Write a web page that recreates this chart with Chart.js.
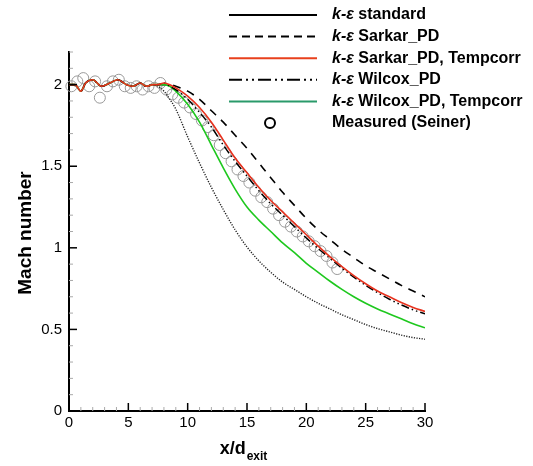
<!DOCTYPE html>
<html>
<head>
<meta charset="utf-8">
<script src="https://cdn.jsdelivr.net/npm/chart.js@4.4.1/dist/chart.umd.min.js"></script>
<style>
  html, body { margin: 0; padding: 0; background: #fff; }
  canvas { display: block; }
</style>
</head>
<body>
<canvas id="machChart" width="533" height="466"></canvas>
<script>
// x/d_exit positions used by the simulation curves
const xSim = [0, 0.5, 1.0, 1.4, 2.0, 2.75, 3.45, 4.1, 4.85, 5.4, 6.0, 6.5, 7.1,
    7.5, 8, 8.5, 9, 10, 11, 12, 13, 14, 15, 16, 17, 18, 19, 20, 21, 22, 23, 24, 25, 26, 27, 28, 29, 30];

const keStandard = [2.0, 2.0, 1.96, 2.01, 2.03, 1.99, 2.01, 2.03, 2.0, 1.99, 2.01, 1.99, 2.0,
    1.99, 1.96, 1.91, 1.85, 1.68, 1.52, 1.37, 1.235, 1.11, 1.005, 0.92, 0.85, 0.79, 0.745, 0.70,
    0.66, 0.625, 0.59, 0.56, 0.53, 0.505, 0.485, 0.465, 0.45, 0.44];
const keSarkar = [2.0, 2.0, 1.96, 2.01, 2.03, 1.99, 2.01, 2.03, 2.0, 1.99, 2.01, 1.99, 2.0,
    2.0, 2.0, 2.0, 1.99, 1.96, 1.91, 1.84, 1.77, 1.69, 1.61, 1.52, 1.43, 1.34, 1.26, 1.18,
    1.11, 1.05, 0.99, 0.94, 0.89, 0.85, 0.81, 0.77, 0.735, 0.70];
const keSarkarTemp = [2.0, 2.0, 1.96, 2.01, 2.03, 1.99, 2.01, 2.03, 2.0, 1.99, 2.01, 1.99, 2.0,
    2.0, 2.01, 2.0, 1.98, 1.93, 1.86, 1.77, 1.66, 1.55, 1.46, 1.37, 1.29, 1.22, 1.15, 1.08,
    1.01, 0.945, 0.885, 0.83, 0.78, 0.735, 0.70, 0.665, 0.635, 0.61];
const keWilcox = [2.0, 2.0, 1.96, 2.01, 2.03, 1.99, 2.01, 2.03, 2.0, 1.99, 2.01, 1.99, 2.0,
    2.0, 2.01, 1.99, 1.97, 1.91, 1.83, 1.74, 1.63, 1.53, 1.44, 1.35, 1.27, 1.20, 1.13, 1.06,
    0.995, 0.935, 0.875, 0.82, 0.77, 0.725, 0.685, 0.65, 0.62, 0.595];
const keWilcoxTemp = [2.0, 2.0, 1.96, 2.01, 2.03, 1.99, 2.01, 2.03, 2.0, 1.99, 2.01, 1.99, 2.0,
    2.0, 2.0, 1.99, 1.96, 1.88, 1.77, 1.63, 1.49, 1.36, 1.25, 1.17, 1.10, 1.03, 0.97, 0.905,
    0.85, 0.795, 0.745, 0.70, 0.66, 0.625, 0.595, 0.565, 0.535, 0.51];

// Seiner measurements
const xMeas = [0.2, 0.7, 1.2, 1.7, 2.2, 2.6, 3.2, 3.7, 4.2, 4.7, 5.2, 5.7, 6.2, 6.7, 7.2, 7.7,
    8.2, 8.7, 9.2, 9.7, 10.2, 10.7, 11.2, 11.7, 12.2, 12.7, 13.2, 13.7, 14.2, 14.7, 15.2, 15.7,
    16.2, 16.7, 17.2, 17.7, 18.2, 18.7, 19.2, 19.7, 20.2, 20.7, 21.2, 21.7, 22.2, 22.6];
const machMeas = [1.99, 2.02, 2.04, 1.99, 2.02, 1.92, 1.99, 2.02, 2.03, 1.99, 1.98, 1.99, 1.97, 1.99, 1.98, 2.01,
    1.97, 1.94, 1.92, 1.89, 1.86, 1.82, 1.78, 1.74, 1.69, 1.63, 1.58, 1.53, 1.48, 1.44, 1.40, 1.35,
    1.31, 1.28, 1.24, 1.20, 1.16, 1.13, 1.10, 1.07, 1.04, 1.01, 0.98, 0.95, 0.91, 0.87];

const xTicks = [0, 5, 10, 15, 20, 25, 30];
const yTicks = [0, 0.5, 1, 1.5, 2];

const pts = (xs, ys) => xs.map((x, i) => ({ x: x, y: ys[i] }));
const FONT = '"Liberation Sans", Arial, Helvetica, sans-serif';

const legendItems = [
    { label: ' standard', color: '#000', dash: [] },
    { label: ' Sarkar_PD', color: '#000', dash: [8, 5] },
    { label: ' Sarkar_PD, Tempcorr', color: '#e8401c', dash: [] },
    { label: ' Wilcox_PD', color: '#000', dash: [13, 4, 2, 4, 2, 4] },
    { label: ' Wilcox_PD, Tempcorr', color: '#2a9a6a', dash: [] },
    { label: 'Measured (Seiner)', marker: true }
];

const decorPlugin = {
    id: 'decor',
    afterDraw(chart) {
        const ctx = chart.ctx;
        const { left, bottom } = chart.chartArea;
        const xs = chart.scales.x, ys = chart.scales.y;
        ctx.save();
        // inward ticks
        for (let v = 0; v <= 30; v++) {
            const major = v % 5 === 0;
            const px = xs.getPixelForValue(v);
            ctx.strokeStyle = major ? '#000' : '#aaa';
            ctx.lineWidth = major ? 1.5 : 1;
            ctx.beginPath();
            ctx.moveTo(px, bottom);
            ctx.lineTo(px, bottom - (major ? 8 : 4));
            ctx.stroke();
        }
        for (let i = 0; i <= 22; i++) {
            const major = i % 5 === 0;
            const py = ys.getPixelForValue(i / 10);
            ctx.strokeStyle = major ? '#000' : '#aaa';
            ctx.lineWidth = major ? 1.5 : 1;
            ctx.beginPath();
            ctx.moveTo(left, py);
            ctx.lineTo(left + (major ? 8 : 4), py);
            ctx.stroke();
        }

        // axis titles
        ctx.fillStyle = '#000';
        ctx.textBaseline = 'alphabetic';
        ctx.font = 'bold 18px ' + FONT;
        const main = 'x/d';
        const wMain = ctx.measureText(main).width;
        ctx.font = 'bold 12px ' + FONT;
        const wSub = ctx.measureText('exit').width;
        const startX = 243 - (wMain + wSub) / 2;
        ctx.font = 'bold 18px ' + FONT;
        ctx.textAlign = 'left';
        ctx.fillText(main, startX, 454);
        ctx.font = 'bold 12px ' + FONT;
        ctx.fillText('exit', startX + wMain + 1, 460);

        ctx.save();
        ctx.translate(31, 233);
        ctx.rotate(-Math.PI / 2);
        ctx.textAlign = 'center';
        ctx.font = 'bold 19px ' + FONT;
        ctx.fillText('Mach number', 0, 0);
        ctx.restore();

        // legend
        legendItems.forEach((item, i) => {
            const cy = 15 + i * 21.6;
            if (item.marker) {
                ctx.strokeStyle = '#000';
                ctx.lineWidth = 2;
                ctx.setLineDash([]);
                ctx.beginPath();
                ctx.arc(270, cy, 5, 0, Math.PI * 2);
                ctx.stroke();
                ctx.font = 'bold 16px ' + FONT;
                ctx.textBaseline = 'middle';
                ctx.fillText(item.label, 332, cy);
            } else {
                ctx.strokeStyle = item.color;
                ctx.lineWidth = 2;
                ctx.setLineDash(item.dash);
                ctx.beginPath();
                ctx.moveTo(229, cy);
                ctx.lineTo(317, cy);
                ctx.stroke();
                ctx.setLineDash([]);
                ctx.textBaseline = 'middle';
                ctx.font = 'italic bold 16px ' + FONT;
                ctx.fillText('k-ε', 332, cy);
                const w = ctx.measureText('k-ε').width;
                ctx.font = 'bold 16px ' + FONT;
                ctx.fillText(item.label, 332 + w, cy);
            }
        });
        ctx.restore();
    }
};

const ctx = document.getElementById('machChart').getContext('2d');
new Chart(ctx, {
    type: 'line',
    data: {
        datasets: [
            {
                label: 'k-ε Sarkar_PD, Tempcorr',
                data: pts(xSim, keSarkarTemp),
                borderColor: '#e8321e',
                borderWidth: 1.6
            },
            {
                label: 'k-ε Wilcox_PD',
                data: pts(xSim, keWilcox),
                borderColor: '#000',
                borderWidth: 1.5,
                borderDash: [8, 3, 1.5, 3, 1.5, 3]
            },
            {
                label: 'k-ε Wilcox_PD, Tempcorr',
                data: pts(xSim, keWilcoxTemp),
                borderColor: '#1ec81e',
                borderWidth: 1.6
            },
            {
                label: 'k-ε Sarkar_PD',
                data: pts(xSim, keSarkar),
                borderColor: '#000',
                borderWidth: 1.6,
                borderDash: [8, 7]
            },
            {
                label: 'k-ε standard',
                data: pts(xSim, keStandard),
                borderColor: '#222',
                borderWidth: 1.4,
                borderDash: [1.2, 1.4]
            },
            {
                label: 'Measured (Seiner)',
                data: pts(xMeas, machMeas),
                showLine: false,
                pointRadius: 5.5,
                pointBorderColor: '#999',
                pointBorderWidth: 1,
                pointBackgroundColor: 'rgba(0,0,0,0)',
                clip: false
            }
        ]
    },
    options: {
        responsive: false,
        animation: false,
        devicePixelRatio: 1,
        layout: { padding: { left: 0, right: 108, top: 52, bottom: 0 } },
        elements: {
            line: { cubicInterpolationMode: 'monotone', fill: false },
            point: { radius: 0 }
        },
        font: { family: FONT },
        scales: {
            x: {
                type: 'linear',
                min: 0,
                max: 30,
                afterBuildTicks: s => { s.ticks = xTicks.map(v => ({ value: v })); },
                afterFit: s => { s.height = 55; },
                ticks: { color: '#000', font: { size: 15, family: FONT }, padding: 3, maxRotation: 0, autoSkip: false },
                grid: { display: false, drawTicks: false, tickLength: 0 },
                border: { color: '#000', width: 2 }
            },
            y: {
                type: 'linear',
                min: 0,
                max: 2.2,
                afterBuildTicks: s => { s.ticks = yTicks.map(v => ({ value: v })); },
                afterFit: s => { s.width = 69; },
                ticks: { color: '#000', font: { size: 15, family: FONT }, padding: 7, autoSkip: false,
                    callback: v => String(v) },
                grid: { display: false, drawTicks: false, tickLength: 0 },
                border: { color: '#000', width: 2 }
            }
        },
        plugins: {
            legend: { display: false },
            tooltip: { enabled: false }
        }
    },
    plugins: [decorPlugin]
});
</script>
</body>
</html>
